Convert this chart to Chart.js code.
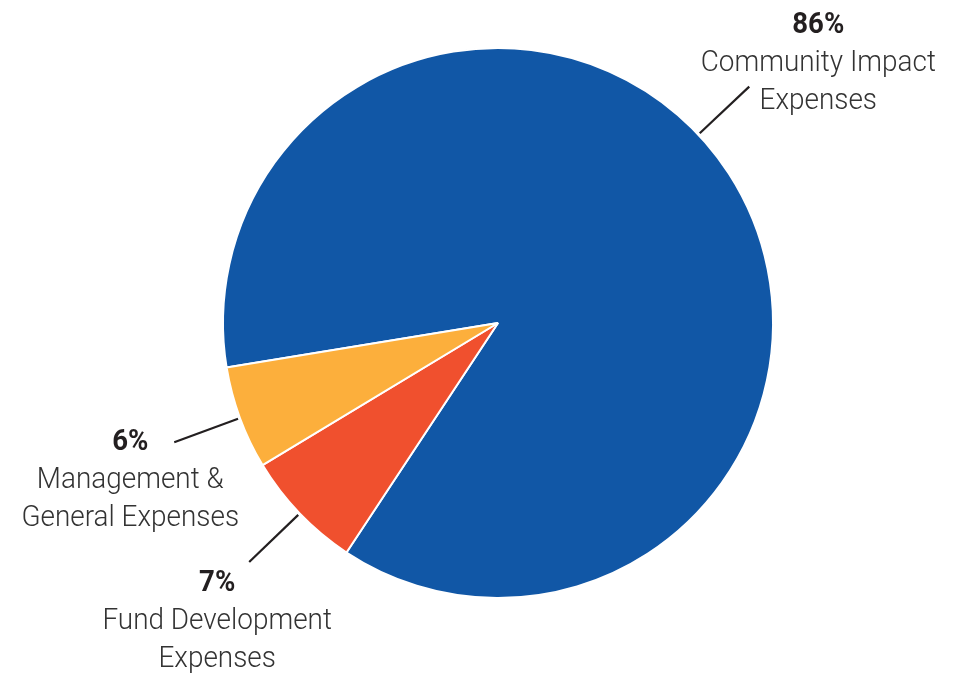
<!DOCTYPE html>
<html>
<head>
<meta charset="utf-8">
<script src="https://cdn.jsdelivr.net/npm/chart.js@4.4.1/dist/chart.umd.min.js"></script>
<style>
  html, body { margin: 0; padding: 0; background: #fff; }
  #wrap { width: 955px; height: 673px; position: relative; }
</style>
</head>
<body>
<div id="wrap"><canvas id="pie"></canvas></div>
<script>
const categories = ['Community Impact Expenses', 'Fund Development Expenses', 'Management & General Expenses'];
const values = [86, 7, 6];
const percentLabels = ['86%', '7%', '6%'];
const nameLines = [
  ['Community Impact', 'Expenses'],
  ['Fund Development', 'Expenses'],
  ['Management &', 'General Expenses']
];
const colors = ['#1157A6', '#F0502E', '#FCAF3C'];

// where each leader line leaves its slice (0..1 along the arc) and where the text sits
const labelLayout = [
  { along: 0.467, dx: 69, dy: -54 },
  { along: 0.5, dx: -32, dy: 29 },
  { along: 0.5, dx: -44, dy: 8 }
];

function drawText(ctx, text, x, y, squeeze) {
  ctx.save();
  ctx.translate(x, y);
  ctx.scale(squeeze, 1);
  ctx.fillText(text, 0, 0);
  ctx.restore();
}

const calloutPlugin = {
  id: 'callouts',
  afterDatasetsDraw(chart) {
    const ctx = chart.ctx;
    const arcs = chart.getDatasetMeta(0).data;
    arcs.forEach((arc, i) => {
      const lay = labelLayout[i];
      const a = arc.startAngle + (arc.endAngle - arc.startAngle) * lay.along;
      const r0 = arc.outerRadius + 2;
      const r1 = arc.outerRadius + 70;
      const x0 = arc.x + Math.cos(a) * r0;
      const y0 = arc.y + Math.sin(a) * r0;
      const x1 = arc.x + Math.cos(a) * r1;
      const y1 = arc.y + Math.sin(a) * r1;

      ctx.save();
      ctx.strokeStyle = '#231f20';
      ctx.lineWidth = 2.2;
      ctx.beginPath();
      ctx.moveTo(x0, y0);
      ctx.lineTo(x1, y1);
      ctx.stroke();

      const tx = x1 + lay.dx;
      let ty = y1 + lay.dy;
      ctx.textAlign = 'center';
      ctx.textBaseline = 'alphabetic';
      ctx.fillStyle = '#231f20';
      ctx.font = 'bold 29px Roboto';
      drawText(ctx, percentLabels[i], tx, ty, 0.95);
      ctx.fillStyle = '#333333';
      ctx.font = '300 30px Roboto';
      nameLines[i].forEach(line => {
        ty += 38;
        drawText(ctx, line, tx, ty, 0.93);
      });
      ctx.restore();
    });
  }
};

new Chart(document.getElementById('pie'), {
  type: 'pie',
  data: {
    labels: categories,
    datasets: [{
      data: values,
      backgroundColor: colors,
      borderColor: '#ffffff',
      borderWidth: 2
    }]
  },
  options: {
    responsive: true,
    maintainAspectRatio: false,
    animation: false,
    rotation: 260.7,
    layout: { padding: { top: 47, bottom: 74, left: 222, right: 181 } },
    plugins: {
      legend: { display: false },
      tooltip: { enabled: false }
    }
  },
  plugins: [calloutPlugin]
});
</script>
</body>
</html>
